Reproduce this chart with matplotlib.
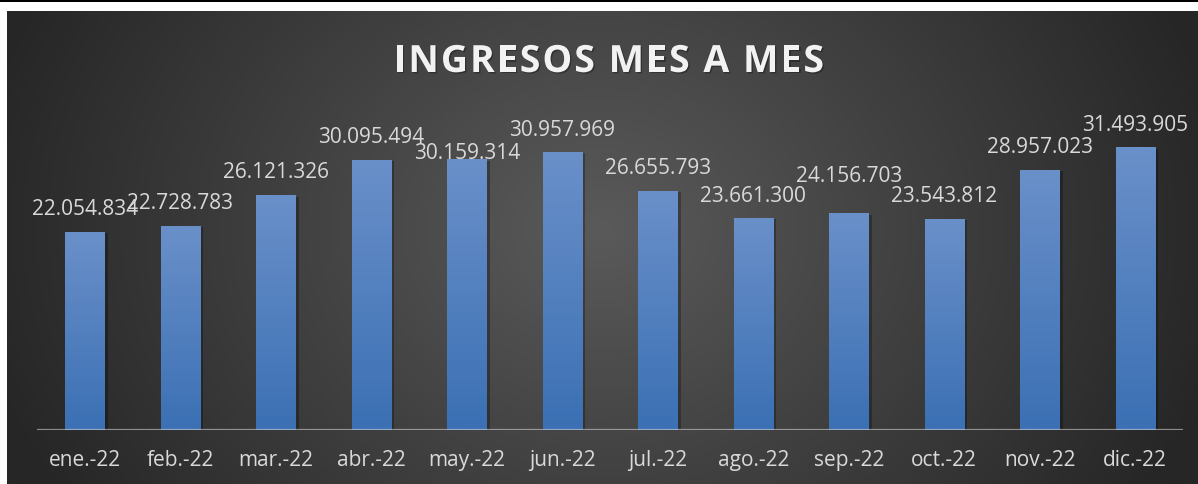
import numpy as np
import matplotlib
matplotlib.use('Agg')
import matplotlib.pyplot as plt
from matplotlib import patheffects
from matplotlib.patches import Rectangle
from matplotlib.colors import LinearSegmentedColormap
from matplotlib.font_manager import FontProperties, findfont
from matplotlib.ft2font import FT2Font

# data
meses = ['ene.-22', 'feb.-22', 'mar.-22', 'abr.-22', 'may.-22', 'jun.-22',
         'jul.-22', 'ago.-22', 'sep.-22', 'oct.-22', 'nov.-22', 'dic.-22']
ingresos = [22054834, 22728783, 26121326, 30095494, 30159314, 30957969,
            26655793, 23661300, 24156703, 23543812, 28957023, 31493905]
titulo = 'INGRESOS MES A MES'

# gap (pixels) between bar top and label baseline, labels were hand-moved in the original
label_gap = [18, 18, 18, 18, 1, 17, 18, 17, 32, 18, 18, 17]

W, H, DPI = 1198, 485, 100
plt.rcParams['font.family'] = ['Open Sans', 'DejaVu Sans']
txt_color = '#d9d9d9'

fig = plt.figure(figsize=(W / DPI, H / DPI), dpi=DPI, facecolor='white')

# dark radial background of the chart area
bg = fig.add_axes([7 / W, 0, 1 - 7 / W, (H - 12) / H], zorder=0)
gx, gy = np.meshgrid(np.linspace(7, W, 400), np.linspace(12, H, 200))
r = np.sqrt(((gx - 600) / 640) ** 2 + ((gy - 230) / 520) ** 2)
r = np.clip(r, 0, 1)
bg_cmap = LinearSegmentedColormap.from_list('bg', ['#5a5a5a', '#262626'])
bg.imshow(r, cmap=bg_cmap, vmin=0, vmax=1, aspect='auto', extent=[0, 1, 0, 1], origin='upper')
bg.axis('off')

# black rule across the top
fig.patches.append(Rectangle((0, 1 - 2.5 / H), 1, 2.5 / H, transform=fig.transFigure,
                             facecolor='black', edgecolor='none', zorder=5))

ax = fig.add_axes([37 / W, 54 / H, 1146 / W, 331 / H], zorder=1)
ax.set_facecolor('none')
x = np.arange(len(meses))

bars = ax.bar(x, ingresos, width=0.41, color='#4f7fc0', zorder=2)
grad = np.linspace(0, 1, 256).reshape(-1, 1)
bar_cmap = LinearSegmentedColormap.from_list('bar', ['#3b70b4', '#6a90c9'])
for b in bars:
    b.set_path_effects([patheffects.SimplePatchShadow(offset=(2.5, -1), shadow_rgbFace='black', alpha=0.28),
                        patheffects.Normal()])
    im = ax.imshow(grad, extent=[b.get_x(), b.get_x() + b.get_width(), 0, b.get_height()],
                   origin='lower', cmap=bar_cmap, aspect='auto', zorder=3)
    im.set_clip_path(b)

for xi, v, g in zip(x, ingresos, label_gap):
    ax.annotate(f'{v:,}'.replace(',', '.'), (xi, v), xytext=(0, g), textcoords='offset pixels',
                ha='center', va='baseline', fontsize=15, color=txt_color, zorder=4)

ax.axhline(0, color='#d0d0d0', alpha=0.6, lw=1.6, zorder=4)
ax.set_xlim(-0.5, 11.5)
ax.set_ylim(0, 36.87e6)
ax.set_xticks(x)
ax.set_xticklabels(meses, fontsize=15, color=txt_color)
ax.tick_params(axis='x', length=0, pad=14)
ax.set_yticks([])
for s in ax.spines.values():
    s.set_visible(False)

# title, bold with letter spacing (drawn char by char)
fp = FontProperties(family='Open Sans', weight='bold', size=27)
ft = FT2Font(findfont(fp))
ft.set_size(27, DPI)
adv = [ft.load_char(ord(c)).linearHoriAdvance / 65536 for c in titulo]
tracking = 2.0
total = sum(adv) + tracking * (len(titulo) - 1)
cx = 609 - total / 2
shadow = [patheffects.withSimplePatchShadow(offset=(1, -1), shadow_rgbFace='black', alpha=0.3)]
for c, a in zip(titulo, adv):
    fig.text(cx / W, (H - 73) / H, c, fontproperties=fp, color='#f2f2f2',
             ha='left', va='baseline', zorder=6, path_effects=shadow)
    cx += a + tracking

fig.savefig('out.png', dpi=DPI, facecolor=fig.get_facecolor())
